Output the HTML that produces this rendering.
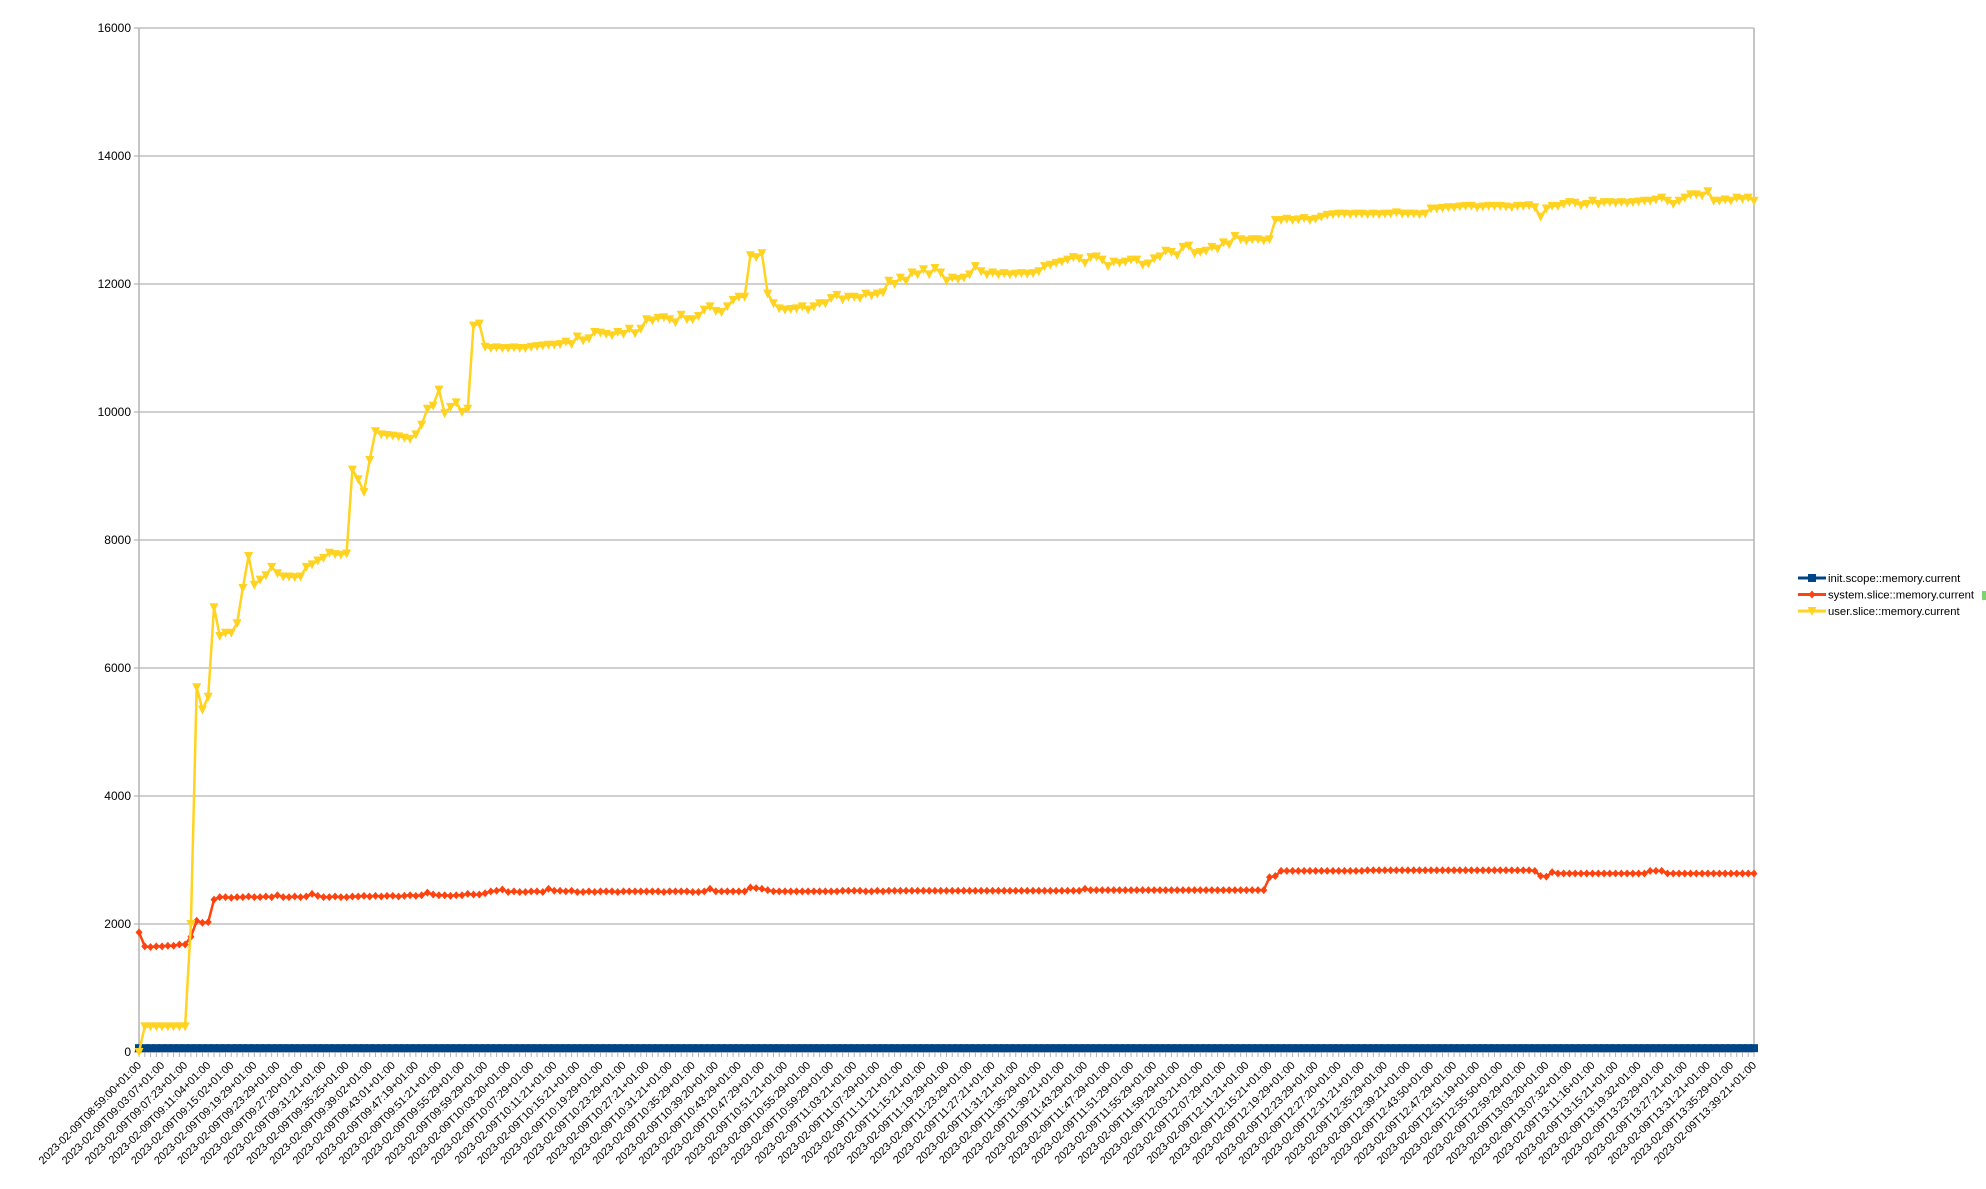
<!DOCTYPE html>
<html><head><meta charset="utf-8"><style>
html,body{margin:0;padding:0;background:#fff;}
svg{display:block;font-family:"Liberation Sans",sans-serif;}
</style></head><body>
<svg id="chart" width="1986" height="1189" viewBox="0 0 1986 1189" xmlns="http://www.w3.org/2000/svg">
<g id="grid"></g>
<g id="yaxis"></g>
<g id="xaxis"></g>
<g id="series"></g>
<g id="legend"></g>
</svg>
<script>
const yTicks=[0,2000,4000,6000,8000,10000,12000,14000,16000];
const xLabels=["08:59:00","09:03:07","09:07:23","09:11:04","09:15:02","09:19:29","09:23:29","09:27:20","09:31:21","09:35:25","09:39:02","09:43:01","09:47:19","09:51:21","09:55:29","09:59:29","10:03:20","10:07:29","10:11:21","10:15:21","10:19:29","10:23:29","10:27:21","10:31:21","10:35:29","10:39:20","10:43:29","10:47:29","10:51:21","10:55:29","10:59:29","11:03:21","11:07:29","11:11:21","11:15:21","11:19:29","11:23:29","11:27:21","11:31:21","11:35:29","11:39:21","11:43:29","11:47:29","11:51:29","11:55:29","11:59:29","12:03:21","12:07:29","12:11:21","12:15:21","12:19:29","12:23:29","12:27:20","12:31:21","12:35:29","12:39:21","12:43:50","12:47:29","12:51:19","12:55:50","12:59:29","13:03:20","13:07:32","13:11:16","13:15:21","13:19:32","13:23:29","13:27:21","13:31:21","13:35:29","13:39:21"];
const userSlice=[0,400,400,400,400,400,400,400,400,2000,5700,5350,5550,6950,6500,6550,6550,6700,7250,7750,
7300,7380,7450,7580,7480,7430,7430,7420,7430,7580,7620,7680,7720,7800,7780,7770,7790,9100,8950,8750,
9250,9700,9650,9640,9630,9620,9600,9580,9650,9800,10050,10100,10350,9980,10080,10150,10000,10050,11350,11380,
11020,11000,11010,11000,11000,11010,11000,11000,11020,11030,11040,11050,11050,11060,11100,11060,11180,11120,11150,11250,
11240,11220,11200,11250,11220,11300,11230,11300,11450,11430,11470,11480,11450,11400,11520,11450,11450,11500,11600,11650,
11580,11560,11650,11750,11800,11800,12450,12420,12480,11850,11700,11620,11600,11610,11620,11650,11600,11650,11700,11700,
11780,11830,11760,11800,11800,11780,11850,11820,11850,11870,12050,12000,12100,12050,12180,12150,12230,12150,12250,12180,
12050,12100,12080,12100,12150,12280,12200,12150,12180,12150,12170,12150,12160,12170,12160,12170,12200,12280,12300,12330,
12350,12380,12420,12400,12330,12420,12430,12380,12280,12350,12330,12350,12380,12380,12300,12320,12400,12430,12520,12500,
12450,12580,12600,12480,12500,12520,12580,12550,12650,12620,12750,12700,12680,12700,12700,12680,12700,13000,13000,13020,
13000,13010,13030,13000,13020,13050,13080,13090,13100,13100,13090,13100,13100,13090,13100,13090,13100,13100,13120,13100,
13100,13100,13090,13100,13180,13180,13190,13200,13200,13210,13220,13220,13200,13210,13220,13220,13220,13210,13200,13220,
13220,13230,13200,13050,13180,13220,13220,13250,13280,13270,13230,13250,13300,13250,13280,13280,13270,13280,13270,13280,
13290,13300,13300,13320,13350,13300,13250,13300,13350,13400,13400,13380,13450,13300,13300,13320,13300,13350,13330,13350,
13300];
const systemSlice=[1870,1650,1640,1650,1650,1660,1660,1680,1680,1800,2050,2020,2030,2380,2420,2420,2410,2420,2420,2430,
2420,2420,2430,2420,2450,2420,2420,2430,2420,2430,2470,2440,2420,2420,2430,2420,2420,2430,2430,2440,
2430,2440,2430,2440,2440,2430,2440,2450,2440,2450,2490,2460,2450,2450,2440,2450,2450,2470,2460,2460,
2480,2510,2520,2540,2500,2510,2500,2500,2510,2510,2500,2550,2520,2520,2510,2520,2500,2500,2510,2500,
2510,2510,2510,2500,2510,2510,2510,2510,2510,2510,2510,2500,2510,2510,2510,2510,2500,2500,2510,2550,
2510,2510,2510,2510,2510,2510,2570,2560,2550,2530,2510,2510,2510,2510,2510,2510,2510,2510,2510,2510,
2510,2510,2520,2520,2520,2520,2510,2510,2520,2510,2520,2520,2520,2520,2520,2520,2520,2520,2520,2520,
2520,2520,2520,2520,2520,2520,2520,2520,2520,2520,2520,2520,2520,2520,2520,2520,2520,2520,2520,2520,
2520,2520,2520,2520,2550,2530,2530,2530,2530,2530,2530,2530,2530,2530,2530,2530,2530,2530,2530,2530,
2530,2530,2530,2530,2530,2530,2530,2530,2530,2530,2530,2530,2530,2530,2530,2530,2730,2750,2830,2830,
2830,2830,2830,2830,2830,2830,2830,2830,2830,2830,2830,2830,2830,2840,2840,2840,2840,2840,2840,2840,
2840,2840,2840,2840,2840,2840,2840,2840,2840,2840,2840,2840,2840,2840,2840,2840,2840,2840,2840,2840,
2840,2840,2830,2750,2740,2810,2790,2790,2790,2790,2790,2790,2790,2790,2790,2790,2790,2790,2790,2790,
2790,2790,2830,2830,2830,2790,2790,2790,2790,2790,2790,2790,2790,2790,2790,2790,2790,2790,2790,2790,
2790];
const initScope=new Array(userSlice.length).fill(60);

const NS="http://www.w3.org/2000/svg";
const L=139,R=1754,T=28,B=1052,YMAX=16000;
const n=userSlice.length;
const xs=i=>L+(R-L)*i/(n-1);
const ys=v=>B-(B-T)*v/YMAX;
function mk(tag,attrs,parent){const e=document.createElementNS(NS,tag);for(const k in attrs)e.setAttribute(k,attrs[k]);parent.appendChild(e);return e;}
const grid=document.getElementById('grid'),yaxis=document.getElementById('yaxis'),xaxis=document.getElementById('xaxis'),series=document.getElementById('series'),legend=document.getElementById('legend');

yTicks.forEach(v=>{
  const ln=mk('line',{x1:L-5,x2:R,y1:ys(v),y2:ys(v),stroke:'#b3b3b3','stroke-width':1.3},grid);
  
  
  const t=mk('text',{x:L-8,y:ys(v)+4,'text-anchor':'end','font-size':12,fill:'#000'},yaxis);
  t.textContent=v;
  
  
});
mk('line',{x1:L,x2:L,y1:T,y2:B,stroke:'#b3b3b3','stroke-width':1.5},yaxis);
mk('line',{x1:R,x2:R,y1:T,y2:B,stroke:'#b3b3b3','stroke-width':1.5},yaxis);
for(let i=0;i<n;i++){mk('line',{x1:xs(i),x2:xs(i),y1:B,y2:B+5,stroke:'#b3b3b3','stroke-width':1},xaxis);}
xLabels.forEach((lab,k)=>{
  const x=xs(k*4);
  const t=mk('text',{x:x+3,y:B+14,'text-anchor':'end','font-size':11,fill:'#000',transform:`rotate(-45 ${x+3} ${B+14})`},xaxis);
  t.textContent='2023-02-09T'+lab+'+01:00';
  
  
});

function drawSeries(vals,color,width,marker,name){
  const g=mk('g',{},series);
  
  
  const pts=vals.map((v,i)=>xs(i).toFixed(1)+','+ys(v).toFixed(1)).join(' ');
  mk('polyline',{points:pts,fill:'none',stroke:color,'stroke-width':width,'stroke-linejoin':'round'},g);
  vals.forEach((v,i)=>{
    const x=xs(i),y=ys(v);let m;
    if(marker==='tri') m=mk('polygon',{points:`${x-4.5},${y-4} ${x+4.5},${y-4} ${x},${y+5}`,fill:color},g);
    else if(marker==='dia') m=mk('polygon',{points:`${x},${y-4} ${x+3.5},${y} ${x},${y+4} ${x-3.5},${y}`,fill:color},g);
    else m=mk('rect',{x:x-4,y:y-4,width:8,height:8,fill:color},g);
    
    
  });
}
drawSeries(initScope,'#004586',4,'sq','init-scope-series');
drawSeries(systemSlice,'#ff420e',2.5,'dia','system-slice-series');
drawSeries(userSlice,'#ffd320',2.5,'tri','user-slice-series');

const legItems=[['init.scope::memory.current','#004586','sq'],['system.slice::memory.current','#ff420e','dia'],['user.slice::memory.current','#ffd320','tri']];
legItems.forEach((it,k)=>{
  const y=578+k*16.5;
  const g=mk('g',{},legend);
  
  
  mk('line',{x1:1798,x2:1826,y1:y,y2:y,stroke:it[1],'stroke-width':3},g);
  const c=1812;
  if(it[2]==='sq') mk('rect',{x:c-4,y:y-4,width:8,height:8,fill:it[1]},g);
  else if(it[2]==='dia') mk('polygon',{points:`${c},${y-4} ${c+3.5},${y} ${c},${y+4} ${c-3.5},${y}`,fill:it[1]},g);
  else mk('polygon',{points:`${c-4.5},${y-4} ${c+4.5},${y-4} ${c},${y+5}`,fill:it[1]},g);
  const t=mk('text',{x:1828,y:y+4,'font-size':11.3,fill:'#000'},g);
  t.textContent=it[0];
});
mk('rect',{x:1982,y:591,width:4,height:9,fill:'#7ed36f'},legend);
</script>
</body></html>
